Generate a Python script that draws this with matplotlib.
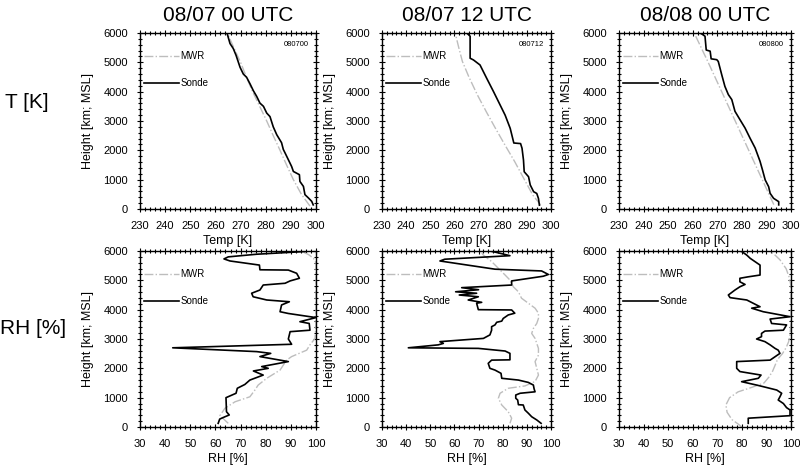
import matplotlib
matplotlib.use("Agg")
import matplotlib.pyplot as plt
from matplotlib.ticker import MultipleLocator

plt.rcParams["font.family"] = ["Liberation Sans", "DejaVu Sans"]

titles = ["08/07 00 UTC", "08/07 12 UTC", "08/08 00 UTC"]
tags = ["080700", "080712", "080800"]

# ---- temperature profiles (height m, T K) ----
t_sonde_h = [
    [140, 260, 375, 490, 770, 940, 1170, 1280, 1450, 1680, 1910, 2030, 2260, 2530, 2800,
     3150, 3270, 3500, 3610, 3840, 4030, 4260, 4490, 4600, 4830, 5240, 5470, 5640, 6000],
    [130, 360, 530, 590, 820, 1100, 1270, 1670, 2070, 2230, 2250, 2750, 3200, 3550, 4000,
     4450, 4910, 5080, 5140, 5890, 6000],
    [140, 250, 365, 535, 760, 990, 1330, 1625, 2080, 2420, 2760, 3050, 3330, 3730, 3900,
     4180, 4580, 5030, 5090, 5120, 5380, 5420, 5890, 5950, 6000],
]
t_sonde_v = [
    [298.9, 298.3, 297.0, 295.6, 295.0, 293.6, 293.4, 291.0, 290.3, 289.0, 287.7, 287.0, 286.3,
     284.4, 283.0, 281.7, 280.4, 279.1, 277.7, 276.4, 275.1, 273.8, 272.4, 271.1, 269.8, 268.2,
     267.1, 265.8, 264.6],
    [295.2, 294.8, 294.1, 292.8, 291.4, 290.7, 288.9, 288.6, 288.0, 287.4, 284.6, 283.1, 281.0,
     278.9, 276.2, 273.4, 270.6, 267.9, 266.5, 266.5, 265.1],
    [295.0, 295.0, 292.9, 291.5, 290.9, 289.5, 288.4, 287.4, 285.4, 283.3, 281.3, 279.2, 277.2,
     275.9, 274.5, 273.1, 271.8, 270.4, 269.8, 267.5, 267.1, 265.5, 265.0, 264.0, 263.0],
]
t_mwr_h = [
    [100, 500, 1000, 1500, 2000, 2500, 3000, 3500, 4000, 4500, 5000, 5500, 6000],
    [140, 470, 1000, 1610, 2200, 2750, 3300, 3890, 4500, 5030, 5500, 6000],
    [150, 1000, 2000, 3000, 4000, 5000, 6000],
]
t_mwr_v = [
    [297.6, 294.2, 291.0, 288.3, 285.7, 283.0, 280.4, 277.6, 274.8, 272.3, 270.0, 267.3, 264.7],
    [295.7, 292.5, 289.0, 285.0, 280.8, 277.0, 273.3, 269.5, 266.0, 263.3, 261.8, 260.3],
    [293.0, 288.3, 282.8, 277.3, 271.8, 266.3, 260.6],
]

# ---- relative humidity profiles (height m, RH %) ----
rh_sonde_h = [
    [125, 270, 350, 410, 520, 1000, 1150, 1320, 1450, 1600, 1770, 1910, 2000, 2060, 2230,
     2400, 2510, 2570, 2700, 2820, 3000, 3250, 3300, 3530, 3590, 3730, 3870, 3930, 4160,
     4270, 4330, 4440, 4560, 4670, 4840, 4900, 4980, 5070, 5240, 5350, 5360, 5520, 5660,
     5730, 5800, 5890, 5980, 6000],
    [125, 240, 350, 470, 580, 750, 760, 920, 980, 1090, 1150, 1200, 1300, 1430, 1520, 1600,
     1660, 1830, 1940, 2000, 2170, 2280, 2290, 2510, 2590, 2680, 2700, 2800, 2850, 2910,
     2970, 3020, 3140, 3300, 3420, 3480, 3570, 3610, 3700, 3820, 3880, 3990, 4000, 4220,
     4250, 4330, 4440, 4500, 4560, 4610, 4680, 4750, 4840, 4980, 5140, 5200, 5320, 5380,
     5660, 5720, 5840, 5950, 6000],
    [125, 300, 386, 580, 660, 800, 920, 1030, 1150, 1260, 1375, 1430, 1545, 1660, 1770,
     1890, 2000, 2230, 2280, 2510, 2620, 2680, 2800, 2910, 3000, 3080, 3190, 3270, 3300,
     3480, 3530, 3680, 3760, 3930, 4050, 4100, 4330, 4410, 4500, 4670, 4780, 4860, 4950,
     5070, 5120, 5180, 5520, 5750, 5860, 5980, 6000],
]
rh_sonde_v = [
    [61.1, 61.7, 63.8, 65.5, 64.4, 64.2, 68.2, 68.7, 71.7, 73.7, 79.0, 75.1, 81.0, 78.4, 89.0,
     77.7, 82.0, 76.4, 43.0, 90.3, 89.0, 89.7, 97.6, 97.3, 93.6, 100.0, 89.0, 85.7, 86.3,
     89.4, 80.4, 75.0, 74.4, 77.7, 79.0, 87.7, 89.7, 93.4, 92.3, 89.0, 77.7, 77.5, 65.8,
     63.4, 65.1, 76.4, 95.0, 97.6],
    [95.9, 94.1, 92.0, 90.6, 89.2, 88.5, 86.5, 86.2, 85.4, 85.4, 87.2, 93.4, 93.0, 92.7,
     90.6, 86.5, 79.6, 79.3, 76.8, 74.7, 74.0, 75.4, 83.0, 83.0, 81.0, 69.9, 40.9, 53.3,
     55.4, 54.0, 63.7, 72.0, 74.7, 75.4, 75.4, 76.8, 77.5, 79.6, 80.2, 82.3, 85.0, 83.7,
     69.9, 69.2, 71.3, 65.7, 69.9, 62.0, 69.2, 60.5, 70.0, 63.0, 83.7, 83.7, 96.8, 98.9,
     96.1, 76.8, 54.0, 56.0, 83.0, 77.5, 74.7],
    [82.6, 82.6, 99.6, 99.6, 98.2, 96.9, 94.8, 95.5, 96.2, 94.2, 88.7, 86.0, 79.9, 86.7,
     87.8, 79.2, 77.9, 77.9, 91.5, 95.5, 94.8, 93.5, 91.5, 89.4, 86.0, 88.0, 88.0, 89.4,
     96.9, 98.2, 92.1, 91.5, 99.6, 88.7, 84.0, 87.4, 82.0, 75.2, 74.5, 77.2, 79.2, 81.3,
     79.2, 79.2, 82.6, 87.4, 87.4, 83.4, 82.0, 80.0, 79.0],
]
rh_mwr_h = [
    [125, 390, 640, 860, 1030, 1260, 1430, 1660, 1940, 2280, 2400, 2620, 2800, 3020, 3500,
     5600, 5750, 5880, 6000],
    [125, 300, 520, 750, 980, 1150, 1320, 1400, 1550, 1770, 2000, 2230, 2450, 2680, 2850,
     3020, 3190, 3360, 3530, 3700, 3880, 4050, 4220, 4390, 4610, 4780, 5010, 5180, 5410,
     5640, 5860, 6000],
    [0, 100, 250, 500, 750, 1000, 1200, 1350, 1500, 1700, 1900, 2100, 2300, 2500, 2700,
     2900, 3100, 3500, 4800, 5100, 5400, 5700, 5900, 6000],
]
rh_mwr_v = [
    [65.1, 61.8, 63.8, 67.8, 73.7, 75.7, 77.0, 80.4, 85.7, 88.3, 90.3, 96.3, 97.6, 99.6,
     100.0, 100.0, 99.0, 97.0, 94.0],
    [83.0, 83.7, 82.3, 79.6, 78.2, 78.9, 82.3, 89.2, 93.4, 94.8, 94.1, 93.4, 94.8, 94.8,
     94.1, 93.4, 92.0, 92.7, 94.1, 94.8, 94.8, 93.4, 90.6, 87.8, 86.5, 84.4, 83.0, 81.0,
     78.2, 75.4, 72.0, 70.6],
    [80.0, 78.5, 76.0, 74.0, 73.5, 75.0, 78.5, 84.0, 89.0, 91.0, 92.5, 93.5, 94.5, 96.5,
     98.0, 99.0, 99.5, 100.0, 100.0, 99.3, 98.0, 95.5, 93.0, 91.0],
]

W, H = 800, 467
fig = plt.figure(figsize=(8.0, 4.67), dpi=100)

cols = [(140, 316), (382, 551), (619, 791)]
rows = [(33, 209), (251, 427)]


def make_ax(x0, x1, y0, y1):
    return fig.add_axes([x0 / W, 1 - y1 / H, (x1 - x0) / W, (y1 - y0) / H])


def style(ax, xlim, xlabel):
    ax.set_xlim(*xlim)
    ax.set_ylim(0, 6000)
    ax.xaxis.set_major_locator(MultipleLocator(10))
    ax.xaxis.set_minor_locator(MultipleLocator(2))
    ax.yaxis.set_major_locator(MultipleLocator(1000))
    ax.yaxis.set_minor_locator(MultipleLocator(200))
    ax.tick_params(which="both", direction="inout", top=True, right=True, labelsize=8,
                   width=0.8)
    ax.tick_params(which="major", length=5)
    ax.tick_params(which="minor", length=3)
    ax.tick_params(axis="x", pad=6)
    ax.tick_params(axis="y", pad=6)
    for s in ax.spines.values():
        s.set_linewidth(1.0)
    ax.set_xlabel(xlabel, fontsize=9, labelpad=3)
    ax.set_ylabel("Height [km; MSL]", fontsize=9, labelpad=7)
    ax.legend(loc="upper left", bbox_to_anchor=(0.025, 0.895), frameon=False, fontsize=7,
              handlelength=3.6, handletextpad=0.1, labelspacing=1.75, borderpad=0,
              borderaxespad=0)


for i, (x0, x1) in enumerate(cols):
    # temperature row
    ax = make_ax(x0, x1, *rows[0])
    ax.plot(t_mwr_v[i], t_mwr_h[i], color="#bdbdbd", lw=1.0, ls="-.", label="MWR")
    ax.plot(t_sonde_v[i], t_sonde_h[i], color="black", lw=1.2, label="Sonde")
    style(ax, (230, 300), "Temp [K]")
    ax.text(0.96, 0.935, tags[i], transform=ax.transAxes, ha="right", va="center",
            fontsize=5.5)
    ax.set_title(titles[i], fontsize=15, pad=9)

    # humidity row
    ax = make_ax(x0, x1, *rows[1])
    ax.plot(rh_mwr_v[i], rh_mwr_h[i], color="#bdbdbd", lw=1.0, ls="-.", label="MWR")
    ax.plot(rh_sonde_v[i], rh_sonde_h[i], color="black", lw=1.2, label="Sonde")
    style(ax, (30, 100), "RH [%]")

fig.text(5 / W, 1 - 102 / H, "T [K]", fontsize=15, ha="left", va="center")
fig.text(0 / W, 1 - 328 / H, "RH [%]", fontsize=15, ha="left", va="center")

fig.savefig("out.png", dpi=100)
